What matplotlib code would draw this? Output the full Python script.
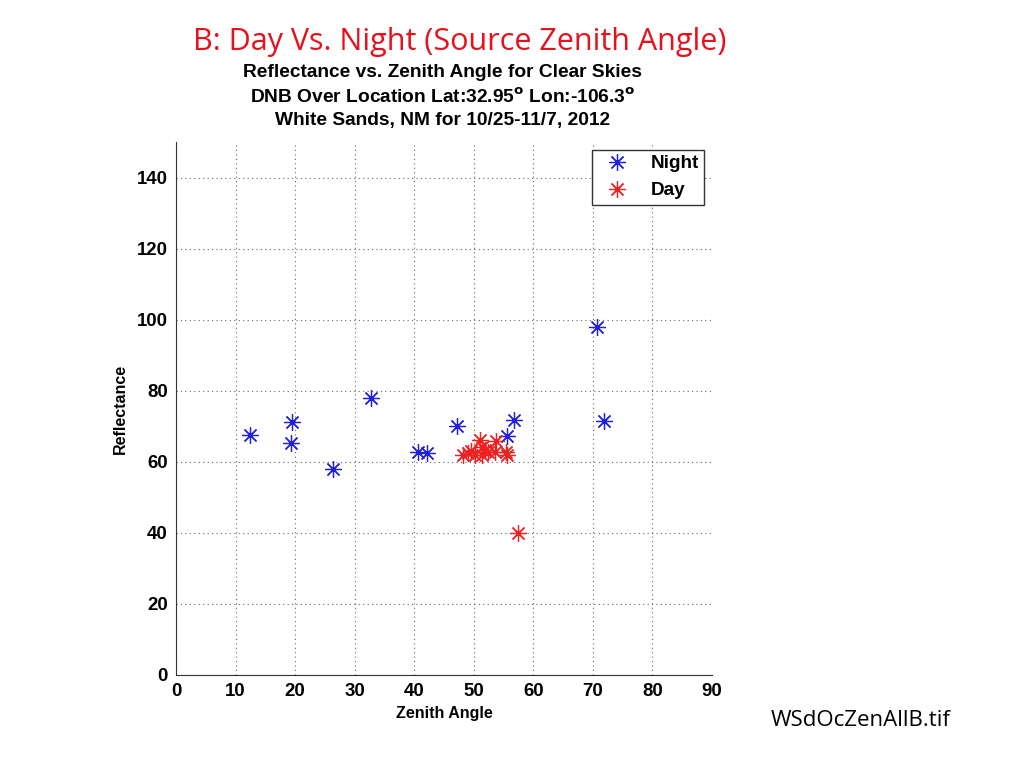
import matplotlib.pyplot as plt
import numpy as np

plt.rcParams['font.family'] = ['Liberation Sans', 'DejaVu Sans']

night_zen = [12.5, 19.5, 19.3, 26.4, 32.7, 40.7, 42.1, 47.1, 55.5, 56.75, 70.7, 71.9]
night_refl = [67.5, 71.2, 65.2, 58.0, 77.9, 62.8, 62.4, 70.2, 67.3, 71.8, 97.9, 71.5]

day_zen = [48.2, 49.1, 49.5, 50.2, 51.0, 51.3, 51.3, 51.9, 52.4, 53.6, 53.7, 55.4, 55.5, 57.5]
day_refl = [61.9, 62.6, 63.1, 61.9, 66.1, 64.2, 61.9, 63.3, 62.8, 62.8, 65.8, 62.8, 61.9, 40.0]

x_ticks = list(range(0, 91, 10))
y_ticks = list(range(0, 141, 20))

fig = plt.figure(figsize=(10.24, 7.68), dpi=100)
ax = fig.add_axes([0.1719, 0.1211, 0.5234, 0.694])

star = (8, 2, 0)
ax.plot(night_zen, night_refl, linestyle='none', marker=star, markersize=12,
        markeredgewidth=0.9, color='#2020e0', label='Night')
ax.plot(day_zen, day_refl, linestyle='none', marker=star, markersize=12,
        markeredgewidth=0.9, color='#f02020', label='Day')

ax.set_xlim(0, 90)
ax.set_ylim(0, 150)
ax.set_xticks(x_ticks)
ax.set_yticks(y_ticks)
ax.tick_params(labelsize=13.4, length=0, pad=6)
for lab in ax.get_xticklabels() + ax.get_yticklabels():
    lab.set_fontweight('bold')
ax.grid(True, linestyle=(0, (1, 3)), color='#666666', linewidth=0.8)
ax.spines['top'].set_visible(False)
ax.spines['right'].set_visible(False)
ax.spines['left'].set_color('#333333')
ax.spines['bottom'].set_color('#333333')

ax.set_xlabel('Zenith Angle', fontsize=11.5, fontweight='bold', labelpad=4)
ax.set_ylabel('Reflectance', fontsize=11.5, fontweight='bold', labelpad=6)

leg = ax.legend(loc='upper right', prop={'weight': 'bold', 'size': 13.6},
                fancybox=False, edgecolor='#333333', framealpha=1,
                borderaxespad=0.4, handletextpad=0.8, borderpad=0.3)
leg.get_frame().set_linewidth(1.0)

fig.text(0.449, 0.945, 'B: Day Vs. Night (Source Zenith Angle)', color='#e8101a',
         fontsize=22, family='Open Sans', ha='center', va='center')
fig.text(0.432, 0.906, 'Reflectance vs. Zenith Angle for Clear Skies', fontsize=13.8,
         fontweight='bold', ha='center', va='center')
fig.text(0.432, 0.873, r'DNB Over Location Lat:32.95$^{\mathbf{o}}$ Lon:-106.3$^{\mathbf{o}}$',
         fontsize=13.8, fontweight='bold', ha='center', va='center')
fig.text(0.432, 0.843, 'White Sands, NM for 10/25-11/7, 2012', fontsize=13.8,
         fontweight='bold', ha='center', va='center')

fig.text(0.840, 0.0625, 'WSdOcZenAllB.tif', fontsize=16, family='Open Sans',
         ha='center', va='center')

fig.savefig('out.png', dpi=100)
